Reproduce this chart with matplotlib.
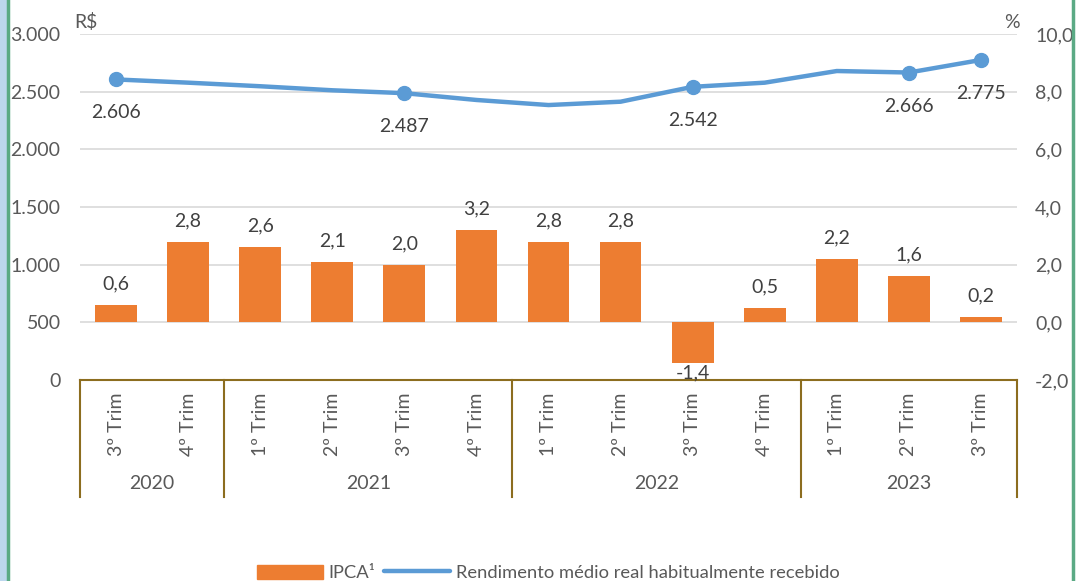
import matplotlib
matplotlib.use("Agg")
import matplotlib.pyplot as plt
from matplotlib.patches import Rectangle
from matplotlib.lines import Line2D
from matplotlib.transforms import blended_transform_factory

plt.rcParams['font.family'] = ['Lato', 'DejaVu Sans']

quarters = ["3º Trim", "4º Trim", "1º Trim", "2º Trim", "3º Trim", "4º Trim",
            "1º Trim", "2º Trim", "3º Trim", "4º Trim", "1º Trim", "2º Trim", "3º Trim"]
years = ["2020", "2021", "2022", "2023"]
year_counts = [2, 4, 4, 3]
ipca = [0.6, 2.8, 2.6, 2.1, 2.0, 3.2, 2.8, 2.8, -1.4, 0.5, 2.2, 1.6, 0.2]
rendimento = [2606, 2578, 2547, 2512, 2487, 2428, 2384, 2413, 2542, 2578, 2679, 2666, 2775]
labeled_points = [0, 4, 8, 11, 12]
left_ticks = [0, 500, 1000, 1500, 2000, 2500, 3000]
right_ticks = [-2, 0, 2, 4, 6, 8, 10]

W, H = 1086, 581
FS = 14
fig = plt.figure(figsize=(W / 100, H / 100), dpi=100)
ax = fig.add_axes([80 / W, 1 - 380 / H, (1017 - 80) / W, (380 - 34) / H])
ax2 = ax.twinx()

orange = "#ED7D31"
blue = "#5B9BD5"
grey = "#595959"
dark = "#404040"
brown = "#8C6D1F"

x = list(range(len(quarters)))

# left axis (R$)
ax.set_ylim(0, 3000)
ax.set_xlim(-0.5, len(quarters) - 0.5)
ax.set_yticks(left_ticks)
ax.set_yticklabels([f"{v:,}".replace(",", ".") for v in left_ticks])
ax.grid(axis='y', color="#D9D9D9", linewidth=1.2)
ax.set_axisbelow(True)
ax.tick_params(axis='y', length=0, labelsize=FS, labelcolor=grey, pad=14)
ax.tick_params(axis='x', length=0, labelbottom=False)
for s in ['left', 'right', 'top']:
    ax.spines[s].set_visible(False)
ax.spines['bottom'].set_color(brown)
ax.spines['bottom'].set_linewidth(1.5)

# right axis (%) - bars
ax2.set_ylim(-2, 10)
ax2.set_yticks(right_ticks)
ax2.set_yticklabels([f"{v:.1f}".replace(".", ",") for v in right_ticks])
ax2.tick_params(axis='y', length=0, labelsize=FS, labelcolor=grey, pad=13)
for s in ax2.spines.values():
    s.set_visible(False)
ax2.bar(x, ipca, width=0.58, color=orange, zorder=2)
for xi, v in zip(x, ipca):
    txt = f"{v:.1f}".replace(".", ",")
    if v >= 0:
        ax2.annotate(txt, (xi, v), xytext=(0, 9), textcoords='offset points',
                     ha='center', va='bottom', fontsize=FS, color=dark)
    else:
        ax2.annotate(txt, (xi, v), xytext=(0, -1), textcoords='offset points',
                     ha='center', va='top', fontsize=FS, color=dark)

# line layer
ax3 = fig.add_axes(ax.get_position(), sharex=ax)
ax3.set_ylim(0, 3000)
ax3.axis('off')
ax3.patch.set_visible(False)
ax3.plot(x, rendimento, color=blue, linewidth=3.2, solid_capstyle='round', zorder=3)
ax3.plot([x[i] for i in labeled_points], [rendimento[i] for i in labeled_points],
         'o', color=blue, markersize=10, zorder=4)
for i in labeled_points:
    ax3.annotate(f"{rendimento[i]:,}".replace(",", "."), (x[i], rendimento[i]),
                 xytext=(0, -18), textcoords='offset points', ha='center', va='top',
                 fontsize=FS, color=dark)

# category axis
trans = blended_transform_factory(ax.transData, ax.transAxes)
for xi, q in zip(x, quarters):
    ax.text(xi, -0.128, q, transform=trans, rotation=90, ha='center', va='center',
            fontsize=FS, color=grey)
bounds = [-0.5]
for c in year_counts:
    bounds.append(bounds[-1] + c)
for b in bounds:
    ax.add_line(Line2D([b, b], [0, -0.338], transform=trans, color=brown,
                       linewidth=1.5, clip_on=False))
for i, yr in enumerate(years):
    ax.text((bounds[i] + bounds[i + 1]) / 2, -0.30, yr, transform=trans,
            ha='center', va='center', fontsize=FS, color=grey)

# unit labels
fig.text(86 / W, 1 - 22 / H, "R$", ha='center', va='center', fontsize=FS, color=grey)
fig.text(1012 / W, 1 - 22 / H, "%", ha='center', va='center', fontsize=FS, color=grey)

# legend
handles = [Rectangle((0, 0), 1, 1, color=orange),
           Line2D([0], [0], color=blue, linewidth=3.2, solid_capstyle='round')]
fig.legend(handles, ["IPCA¹", "Rendimento médio real habitualmente recebido"],
           loc='center', bbox_to_anchor=(548 / W, 1 - 573 / H), ncol=2, frameon=False,
           fontsize=13.2, labelcolor=grey, handlelength=3.6, handleheight=0.8,
           handletextpad=0.3, columnspacing=0.5)

# frame decorations
fig.patches.append(Rectangle((0, 0), 7 / W, 1, transform=fig.transFigure,
                             color="#BDD7EE", zorder=0))
fig.add_artist(Line2D([8 / W, 8 / W], [0, 1], transform=fig.transFigure,
                      color="#5BAA85", linewidth=2.5))
fig.add_artist(Line2D([1073 / W, 1073 / W], [0, 1], transform=fig.transFigure,
                      color="#5BAA85", linewidth=2.5))

fig.savefig("out.png", dpi=100)
